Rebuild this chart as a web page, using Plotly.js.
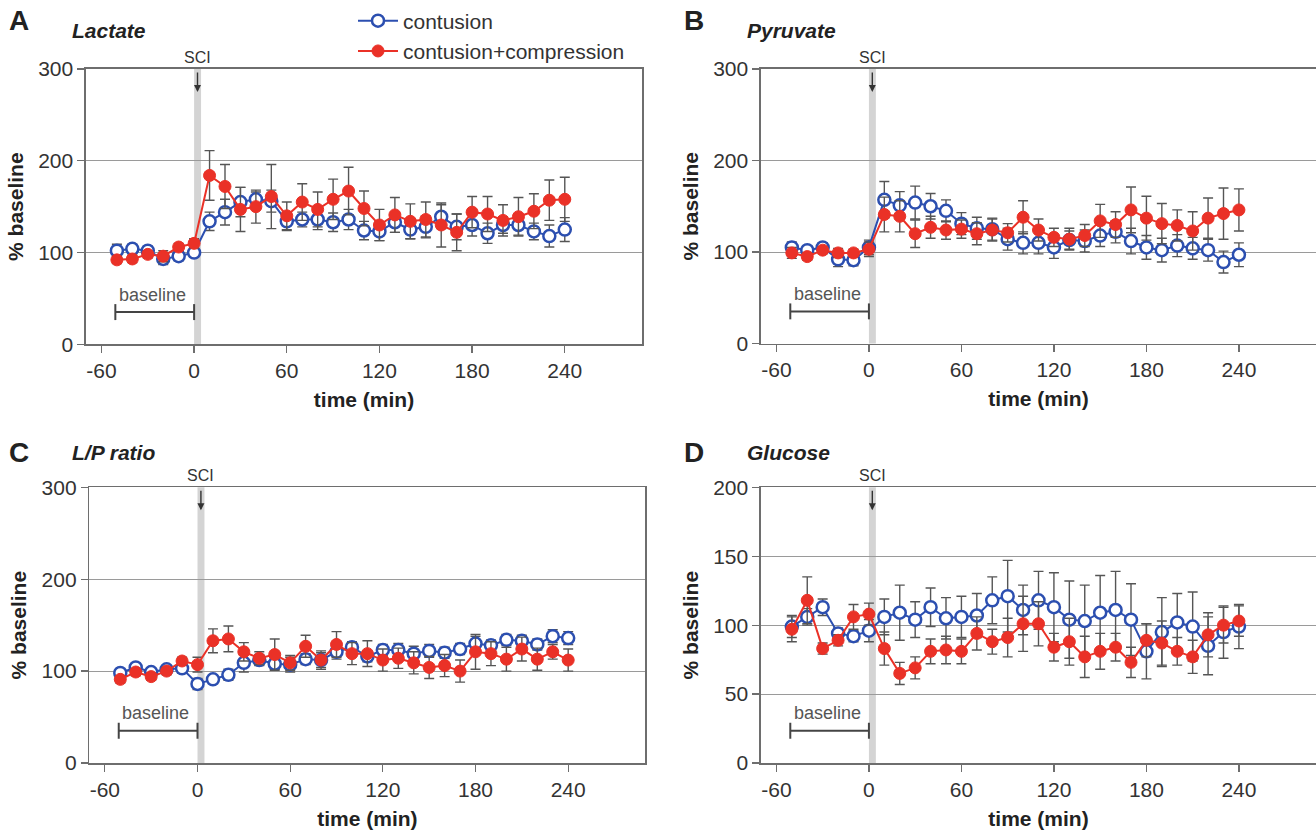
<!DOCTYPE html>
<html>
<head>
<meta charset="utf-8">
<script src="https://cdn.plot.ly/plotly-3.0.1.min.js"></script>
<style>html,body{margin:0;padding:0;background:#fff;}#chart{width:1316px;height:831px;}</style>
</head>
<body>
<div id="chart"></div>
<script>
// ---------- DATA ----------
const time = [-50,-40,-30,-20,-10,0,10,20,30,40,50,60,70,80,90,100,110,120,130,140,150,160,170,180,190,200,210,220,230,240];
const xTicks = [-60,0,60,120,180,240];
const seriesNames = ['contusion','contusion+compression'];

// A: Lactate
const lactateCont = [102,104,102,93,96,100,134,144,155,158,156,134,136,136,133,136,124,123,133,125,128,139,128,130,121,130,130,123,118,125];
const lactateContErr = [7,5,5,6,5,4,10,14,16,8,12,10,8,11,10,11,10,10,11,10,12,13,14,12,11,9,11,9,12,13];
const lactateComp = [92,93,98,96,106,110,184,172,147,150,161,140,155,147,158,167,148,130,141,134,136,130,122,144,142,135,139,145,157,158];
const lactateCompErr = [4,4,4,6,4,5,27,24,24,18,35,15,20,19,22,26,19,17,19,19,19,24,20,17,19,17,21,19,22,24];

// B: Pyruvate
const pyruvateCont = [105,102,105,92,91,105,157,151,154,150,145,131,126,125,114,110,110,105,113,112,118,122,112,105,102,107,104,102,89,97];
const pyruvateContErr = [6,5,5,8,6,8,20,15,18,14,12,12,12,12,12,12,12,12,10,12,12,12,14,13,13,12,12,12,12,13];
const pyruvateComp = [99,95,102,99,99,103,141,139,120,127,124,125,120,124,121,138,124,116,114,118,134,130,146,137,131,129,123,137,142,146];
const pyruvateCompErr = [6,4,4,5,4,8,19,17,15,12,10,10,12,12,10,18,12,10,12,12,18,14,25,24,22,17,21,22,28,23];

// C: L/P ratio
const lpCont = [98,104,99,102,103,86,91,96,109,112,108,107,113,112,121,126,116,123,123,119,122,120,124,130,128,134,133,129,138,136];
const lpContErr = [4,4,4,4,5,6,4,6,10,6,6,8,6,8,8,6,6,6,7,8,7,6,6,8,6,6,6,6,7,7];
const lpComp = [91,99,94,100,111,107,133,135,121,114,118,109,127,112,129,119,119,112,114,109,104,106,100,121,119,113,124,113,121,112];
const lpCompErr = [4,4,4,4,4,8,13,14,10,7,17,8,12,10,14,12,14,12,11,12,12,12,12,19,13,13,13,12,8,12];

// D: Glucose
const glucoseCont = [99,106,113,94,92,96,106,109,104,113,105,106,107,118,121,111,118,113,104,103,109,111,104,81,95,102,99,85,95,99];
const glucoseContErr = [8,6,6,4,4,8,13,20,13,14,15,15,16,17,26,18,21,25,28,26,27,28,26,20,25,21,25,21,19,16];
const glucoseComp = [97,118,83,89,106,108,83,65,69,81,82,81,94,88,91,101,101,84,88,77,81,84,73,89,87,81,77,93,100,103];
const glucoseCompErr = [9,17,4,4,9,8,12,8,8,9,10,9,12,9,14,20,16,10,17,15,13,10,11,12,16,10,12,16,13,11];

const panels = [
  {letter:'A', title:'Lactate',  cont:lactateCont,  contErr:lactateContErr,  comp:lactateComp,  compErr:lactateCompErr,  yTicks:[0,100,200,300], yMax:300},
  {letter:'B', title:'Pyruvate', cont:pyruvateCont, contErr:pyruvateContErr, comp:pyruvateComp, compErr:pyruvateCompErr, yTicks:[0,100,200,300], yMax:300},
  {letter:'C', title:'L/P ratio',cont:lpCont,       contErr:lpContErr,       comp:lpComp,       compErr:lpCompErr,       yTicks:[0,100,200,300], yMax:300},
  {letter:'D', title:'Glucose',  cont:glucoseCont,  contErr:glucoseContErr,  comp:glucoseComp,  compErr:glucoseCompErr,  yTicks:[0,50,100,150,200], yMax:200}
];

// ---------- LAYOUT GEOMETRY ----------
const W = 1316, H = 831;
const M = {l:86, r:0, t:69, b:68};
const PW = W - M.l - M.r, PH = H - M.t - M.b;
const px2x = p => (p - M.l) / PW;
const py2y = p => (H - M.b - p) / PH;

const xDomains = [[px2x(86), px2x(642)], [px2x(761), 1], [px2x(89.4), px2x(645.4)], [px2x(761), 1]];
const yDomains = [[py2y(344.3), 1], [py2y(343.5), 1], [0, py2y(487.3)], [0, py2y(487.3)]];
const labelPos = [[19,21,70,31],[694,21,745,31],[19,452,70,452],[694,452,745,452]];

const FONT = 'Liberation Sans, Arial, Helvetica, sans-serif';
const BLUE = '#2c4fb0', RED = '#ea3127', ERR = '#555555', AX = '#6e6e6e';

const traces = [];
const layout = {
  width: W, height: H,
  margin: M,
  paper_bgcolor: '#ffffff', plot_bgcolor: '#ffffff',
  font: {family: FONT, size: 21, color: '#333333'},
  showlegend: true,
  legend: {x: px2x(353), y: py2y(0.5), xanchor: 'left', yanchor: 'top', itemwidth: 40,
           font: {family: FONT, size: 21, color: '#333333'}, bgcolor: 'rgba(0,0,0,0)', tracegroupgap: 0},
  shapes: [], annotations: []
};

panels.forEach((p, i) => {
  const n = i + 1;
  const xa = 'x' + (n === 1 ? '' : n), ya = 'y' + (n === 1 ? '' : n);
  const xKey = 'xaxis' + (n === 1 ? '' : n), yKey = 'yaxis' + (n === 1 ? '' : n);
  layout[xKey] = {
    domain: xDomains[i], anchor: ya, range: [-70, 290], tickvals: xTicks, ticktext: xTicks.map(String),
    showgrid: false, zeroline: false, showline: true, linecolor: AX, linewidth: 1.6, mirror: true,
    ticks: 'outside', ticklen: 7, tickwidth: 1.3, tickcolor: AX,
    tickfont: {family: FONT, size: 21, color: '#333333'},
    title: {text: 'time (min)', font: {family: FONT, size: 21, color: '#222222', weight: 'bold'}, standoff: 11},
    fixedrange: true
  };
  layout[yKey] = {
    domain: yDomains[i], anchor: xa, range: [0, p.yMax], tickvals: p.yTicks, ticktext: p.yTicks.map(String),
    showgrid: true, gridcolor: '#9a9a9a', gridwidth: 1, zeroline: false, showline: true, linecolor: AX, linewidth: 1.6, mirror: true,
    ticks: 'outside', ticklen: 7, tickwidth: 1.3, tickcolor: AX,
    tickfont: {family: FONT, size: 21, color: '#333333'},
    title: {text: '% baseline', font: {family: FONT, size: 21, color: '#222222', weight: 'bold'}, standoff: 9},
    fixedrange: true
  };

  traces.push({
    type: 'scatter', mode: 'lines+markers', x: time, y: p.cont, xaxis: xa, yaxis: ya,
    name: seriesNames[0], showlegend: i === 0,
    line: {color: BLUE, width: 2},
    marker: {symbol: 'circle', size: 12, color: '#ffffff', line: {color: BLUE, width: 2.5}},
    error_y: {type: 'data', array: p.contErr, visible: true, color: ERR, thickness: 1.4, width: 5}
  });
  traces.push({
    type: 'scatter', mode: 'lines+markers', x: time, y: p.comp, xaxis: xa, yaxis: ya,
    name: seriesNames[1], showlegend: i === 0,
    line: {color: RED, width: 2},
    marker: {symbol: 'circle', size: 12, color: RED, line: {color: RED, width: 1}},
    error_y: {type: 'data', array: p.compErr, visible: true, color: ERR, thickness: 1.4, width: 5}
  });

  const yd = ya + ' domain';
  // SCI bar
  layout.shapes.push({type: 'rect', xref: xa, yref: yd, x0: 0, x1: 4.5, y0: 0, y1: 1, fillcolor: '#d4d4d4', line: {width: 0}, layer: 'below'});
  // baseline bracket
  layout.shapes.push({type: 'line', xref: xa, yref: yd, x0: -51, x1: 0, y0: 0.117, y1: 0.117, line: {color: '#444444', width: 2}});
  layout.shapes.push({type: 'line', xref: xa, yref: yd, x0: -51, x1: -51, y0: 0.088, y1: 0.146, line: {color: '#444444', width: 2}});
  layout.shapes.push({type: 'line', xref: xa, yref: yd, x0: 0, x1: 0, y0: 0.088, y1: 0.146, line: {color: '#444444', width: 2}});

  layout.annotations.push({xref: xa, yref: yd, x: -27, y: 0.18, text: 'baseline', showarrow: false,
    font: {family: FONT, size: 18, color: '#555555'}, xanchor: 'center', yanchor: 'middle'});
  layout.annotations.push({xref: xa, yref: yd, x: 2.2, y: 1, yshift: 12, text: 'SCI', showarrow: false,
    font: {family: FONT, size: 16, color: '#333333'}, xanchor: 'center', yanchor: 'middle'});
  layout.annotations.push({xref: xa, yref: yd, x: 2.2, y: 1 - 23 / 275, text: '', showarrow: true,
    ax: 0, ay: -21, arrowhead: 2, arrowsize: 1, arrowwidth: 1.4, arrowcolor: '#333333'});

  const lp = labelPos[i];
  layout.annotations.push({xref: 'paper', yref: 'paper', x: px2x(lp[0]), y: py2y(lp[1]), text: '<b>' + p.letter + '</b>',
    showarrow: false, xanchor: 'center', yanchor: 'middle', font: {family: FONT, size: 28, color: '#222222'}});
  layout.annotations.push({xref: 'paper', yref: 'paper', x: px2x(lp[2]), y: py2y(lp[3]), text: '<b><i>' + p.title + '</i></b>',
    showarrow: false, xanchor: 'left', yanchor: 'middle', font: {family: FONT, size: 21, color: '#222222'}});
});

Plotly.newPlot('chart', traces, layout, {displayModeBar: false, staticPlot: true});
</script>
</body>
</html>
